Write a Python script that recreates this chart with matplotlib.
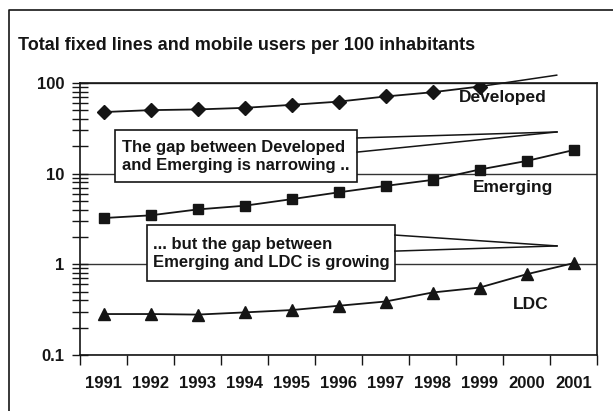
import numpy as np
import matplotlib
matplotlib.use("Agg")
import matplotlib.pyplot as plt
from matplotlib.patches import Rectangle
from matplotlib.lines import Line2D
from matplotlib.ticker import FixedLocator, FixedFormatter, NullFormatter, LogLocator

plt.rcParams['font.family'] = ['Liberation Sans', 'DejaVu Sans']

years = ["1991", "1992", "1993", "1994", "1995", "1996", "1997", "1998", "1999", "2000", "2001"]
developed = [47.8, 50.2, 51.1, 53.2, 57.4, 62.3, 71.0, 79.1, 91.4, np.nan, np.nan]
emerging = [3.24, 3.47, 4.03, 4.43, 5.23, 6.22, 7.33, 8.53, 11.1, 13.8, 18.2]
ldc = [0.283, 0.283, 0.279, 0.295, 0.313, 0.349, 0.389, 0.489, 0.554, 0.777, 1.03]
ytick_vals = [0.1, 1, 10, 100]
ytick_labels = ["0.1", "1", "10", "100"]
title = "Total fixed lines and mobile users per 100 inhabitants"
note1 = "The gap between Developed\nand Emerging is narrowing .."
note2 = "... but the gap between\nEmerging and LDC is growing"

INK = '#151515'
W, H = 613, 411
fig = plt.figure(figsize=(W / 100, H / 100), dpi=100)
fig.patch.set_facecolor('white')
ax = fig.add_axes([80 / W, 1 - 355 / H, 517 / W, 272 / H])

x = np.arange(len(years))
ax.plot(x, developed, color=INK, lw=1.3, marker='D', ms=7, zorder=3)
ax.plot(x, emerging, color=INK, lw=1.3, marker='s', ms=7.5, zorder=3)
ax.plot(x, ldc, color=INK, lw=1.3, marker='^', ms=8.5, zorder=3)

ax.set_yscale('log')
ax.set_ylim(0.1, 100)
ax.set_xlim(-0.5, len(years) - 0.5)

ax.yaxis.set_major_locator(FixedLocator(ytick_vals))
ax.yaxis.set_major_formatter(FixedFormatter(ytick_labels))
ax.yaxis.set_minor_locator(LogLocator(base=10, subs=np.arange(2, 10)))
ax.yaxis.set_minor_formatter(NullFormatter())
ax.tick_params(axis='y', which='both', direction='inout', length=11, width=1.0, color=INK,
               labelsize=12, pad=6, labelcolor=INK)
ax.grid(True, axis='y', which='major', color='#333333', lw=1.0, zorder=1)

ax.set_xticks(x)
ax.set_xticklabels(years, fontsize=12, fontweight='bold', color=INK)
for lab in ax.get_yticklabels():
    lab.set_fontweight('bold')
ax.set_xticks(np.arange(len(years) + 1) - 0.5, minor=True)
ax.tick_params(axis='x', which='major', length=0, pad=15)
ax.tick_params(axis='x', which='minor', direction='out', length=7, width=1.0, color=INK)

for s in ax.spines.values():
    s.set_color(INK)
    s.set_linewidth(1.2)

# series labels
lab_kw = dict(transform=ax.transAxes, fontsize=12.5, fontweight='bold', color=INK,
              ha='center', va='center')
ax.text(0.818, 0.946, "Developed", **lab_kw)
ax.text(0.8375, 0.614, "Emerging", **lab_kw)
ax.text(0.872, 0.184, "LDC", **lab_kw)

# developed line continuing beyond the plot area
ax.annotate("", xy=(8, developed[8]), xycoords='data', xytext=(0.9226, 1.029),
            textcoords='axes fraction',
            arrowprops=dict(arrowstyle='-', color=INK, lw=1.1, shrinkA=0, shrinkB=0),
            annotation_clip=False)

def callout(x0, y0, x1, y1, ytop, ybot, tip, text, tx):
    ax.add_patch(Rectangle((x0, y0), x1 - x0, y1 - y0, transform=ax.transAxes,
                           facecolor='white', edgecolor=INK, lw=1.2, zorder=5, clip_on=False))
    for yy in (ytop, ybot):
        ax.add_line(Line2D([x1, tip[0]], [yy, tip[1]], transform=ax.transAxes, color=INK,
                           lw=1.1, zorder=5, clip_on=False))
    ax.text(tx, (y0 + y1) / 2, text, transform=ax.transAxes, fontsize=12, fontweight='bold',
            color=INK, ha='left', va='center', linespacing=1.25, zorder=6)

callout(0.0677, 0.636, 0.536, 0.827, 0.798, 0.746, (0.9226, 0.820), note1, 0.0812)
callout(0.1296, 0.272, 0.609, 0.478, 0.441, 0.382, (0.9226, 0.401), note2, 0.141)

# title
fig.text(18 / W, 1 - 50 / H, title, fontsize=13, fontweight='bold', color=INK,
         ha='left', va='baseline')

# outer frame (top and left visible)
fig.add_artist(Line2D([8.5 / W, 8.5 / W, 1.0], [0.0, 1 - 10.5 / H, 1 - 10.5 / H],
                      transform=fig.transFigure, color=INK, lw=1.2))

fig.savefig("out.png", dpi=100, facecolor='white')
